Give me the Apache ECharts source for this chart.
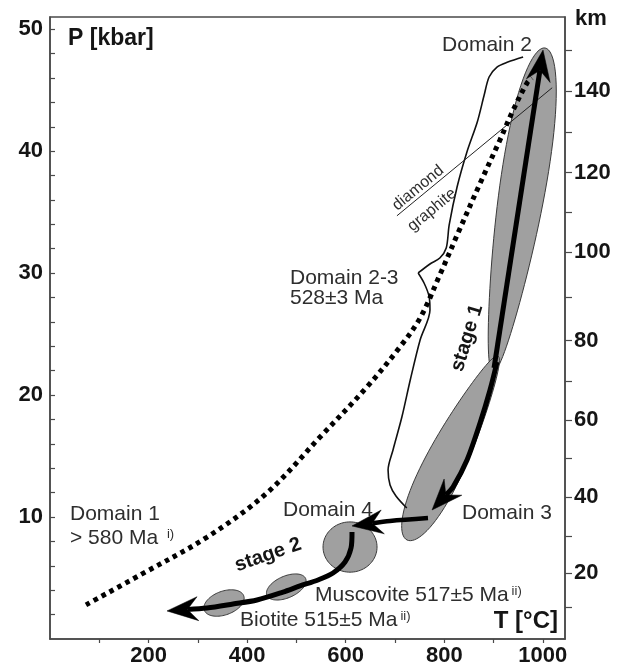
<!DOCTYPE html>
<html>
<head>
<meta charset="utf-8">
<script src="https://cdn.jsdelivr.net/npm/echarts@6/dist/echarts.min.js"></script>
<style>
  html, body { margin: 0; padding: 0; background: #fff; }
  #chart { width: 627px; height: 669px; }
</style>
</head>
<body>
<div id="chart"></div>
<script>
// ---- axes ----
const tempTicks = [100, 200, 300, 400, 500, 600, 700, 800, 900, 1000];
const tempLabels = [200, 400, 600, 800, 1000];
const pressureTicks = [2, 4, 6, 8, 10, 12, 14, 16, 18, 20, 22, 24, 26, 28, 30, 32, 34, 36, 38, 40, 42, 44, 46, 48, 50];
const pressureLabels = [10, 20, 30, 40, 50];
// depth scale (km) and the pressure at which each depth sits
const depthKm = [10, 20, 30, 40, 50, 60, 70, 80, 90, 100, 110, 120, 130, 140, 150];
const depthP = [2.60, 5.39, 8.39, 11.62, 14.82, 17.96, 21.15, 24.46, 28.02, 31.71, 34.95, 38.23, 41.51, 44.93, 48.24];
const depthLabelled = [20, 40, 60, 80, 100, 120, 140];

// ---- dotted reference curve ----
const curveT = [73, 183, 319, 440, 548, 643, 710, 751, 791, 828, 873, 913, 940, 968, 978];
const curveP = [2.8, 5.25, 8.36, 11.97, 16.56, 20.66, 23.94, 26.32, 29.85, 33.29, 37.39, 40.92, 43.38, 45.59, 46.0];

// ---- Domain 2-3 field outline (upper part to the notch, lower part from it) ----
const outlineUpperT = [960, 929, 907, 891, 881, 867, 846, 826, 810, 804, 791, 771, 747];
const outlineUpperP = [47.72, 47.31, 46.90, 46.08, 44.60, 42.39, 39.93, 37.06, 33.95, 32.06, 31.24, 30.75, 30.01];
const outlineLowerT = [747, 759, 769, 771, 751, 731, 714, 696, 686, 690, 702, 724];
const outlineLowerP = [30.01, 29.19, 28.12, 26.98, 24.52, 21.24, 18.20, 15.50, 13.86, 12.63, 11.73, 10.74];

// ---- diamond / graphite transition ----
const dgT = [704, 1019];
const dgP = [34.7, 45.2];

// ---- P-T fields: major axis end points, half width (degC) and egg skew towards end A ----
const fieldTipAT = [1004.5, 909.1, 554.0, 440.2, 313.1];
const fieldTipAP = [48.46, 23.2, 7.54, 3.57, 2.36];
const fieldTipBT = [898.9, 724.4, 663.6, 518.7, 393.1];
const fieldTipBP = [21.89, 8.12, 7.54, 4.96, 3.54];
const fieldHalfWidthT = [45, 39, 51, 22, 24];
const fieldSkew = [0.3, -0.35, 0, 0, 0];

// ---- P-T path arrows ----
const stage1UpT = [901.0, 1000.4];
const stage1UpP = [22.22, 48.29];
const stage1DownT = [907.1, 892.9, 872.6, 846.2, 817.8, 775.2];
const stage1DownP = [22.71, 20.42, 17.71, 14.68, 12.46, 10.58];
const toDomain4T = [767.0, 689.9, 612.8];
const toDomain4P = [9.92, 9.68, 9.27];
const stage2T = [612.8, 610.8, 598.6, 574.3, 543.8, 507.3, 472.8, 420.0, 371.3, 318.6, 237.4];
const stage2P = [8.77, 7.46, 6.31, 5.41, 4.84, 4.35, 3.85, 3.20, 2.87, 2.54, 2.30];

const FONT = '"Liberation Sans", Arial, Helvetica, sans-serif';
const INK = '#2e2e2e';
const AXIS = '#4a4a4a';

function zip(a, b) { return a.map((v, i) => [v, b[i]]); }
function near(list, v) { return list.findIndex(x => Math.abs(x - v) < 1e-6); }

// annotations, anchored in T/P coordinates
const notes = [
  { text: 'Domain 2', at: [795.5, 48.7] },
  { text: 'Domain 2-3', at: [487, 29.6] },
  { text: '528\u00b13 Ma', at: [487, 27.96] },
  { text: 'Domain 1', at: [40.6, 10.25] },
  { text: '> 580 Ma {sup|i)}', at: [40.6, 8.28] },
  { text: 'Domain 4', at: [472.8, 10.58] },
  { text: 'Domain 3', at: [836, 10.33] },
  { text: 'Muscovite 517\u00b15 Ma{sup|ii)}', at: [537.7, 3.61] },
  { text: 'Biotite 515\u00b15 Ma{sup|ii)}', at: [385.6, 1.56] },
  { text: 'stage 1', at: [846.2, 24.68], rotate: 73, bold: true, center: true, size: 20 },
  { text: 'stage 2', at: [442.4, 6.89], rotate: 19, bold: true, center: true, size: 20 },
  { text: 'diamond', at: [746.8, 36.98], rotate: 39.6, center: true, size: 16 },
  { text: 'graphite', at: [775.2, 35.18], rotate: 39.6, center: true, size: 16 }
];

function arrowSeries(ts, ps, width) {
  return {
    type: 'custom',
    coordinateSystem: 'cartesian2d',
    z: 8,
    silent: true,
    clip: false,
    data: [[ts[ts.length - 1], ps[ps.length - 1]]],
    renderItem: function (params, api) {
      const pts = ts.map((t, i) => api.coord([t, ps[i]]));
      const n = pts.length;
      const tip = pts[n - 1];
      const prev = pts[n - 2];
      let dx = tip[0] - prev[0], dy = tip[1] - prev[1];
      const len = Math.hypot(dx, dy);
      dx /= len; dy /= len;
      const nx = -dy, ny = dx;
      const L = 31, W = 12, notch = 0.66 * L;
      const base = [tip[0] - dx * L, tip[1] - dy * L];
      const b1 = [base[0] + nx * W, base[1] + ny * W];
      const b2 = [base[0] - nx * W, base[1] - ny * W];
      const nch = [tip[0] - dx * notch, tip[1] - dy * notch];
      const shaft = pts.slice(0, n - 1).concat([nch]);
      return {
        type: 'group',
        children: [
          { type: 'polyline', shape: { points: shaft, smooth: 0.3 },
            style: { stroke: '#000', lineWidth: width, fill: null, lineCap: 'butt', lineJoin: 'round' } },
          { type: 'polygon', shape: { points: [tip, b1, nch, b2] },
            style: { fill: '#000', stroke: '#000', lineWidth: 0.5 } }
        ]
      };
    }
  };
}

const chart = echarts.init(document.getElementById('chart'), null, { renderer: 'canvas' });

const option = {
  animation: false,
  backgroundColor: '#fff',
  grid: {
    left: 50, top: 17, right: 62, bottom: 30,
    show: true, borderColor: AXIS, borderWidth: 1.5, backgroundColor: 'transparent',
    outerBoundsMode: 'none'
  },
  xAxis: {
    type: 'value', min: 0, max: 1045,
    axisLine: { show: true, onZero: false, lineStyle: { color: AXIS, width: 1.5 } },
    axisTick: { show: true, inside: false, length: 4, customValues: tempTicks, lineStyle: { color: AXIS, width: 1.2 } },
    axisLabel: { customValues: tempLabels, formatter: v => String(v), margin: 6, fontSize: 22, fontWeight: 'bold', color: '#151515', fontFamily: FONT },
    splitLine: { show: false }
  },
  yAxis: [
    {
      type: 'value', min: 0, max: 51, position: 'left',
      axisLine: { show: true, onZero: false, lineStyle: { color: AXIS, width: 1.5 } },
      axisTick: { show: true, inside: true, length: 5, customValues: pressureTicks, lineStyle: { color: AXIS, width: 1.2 } },
      axisLabel: { customValues: pressureLabels, formatter: v => String(v), margin: 7, fontSize: 22, fontWeight: 'bold', color: '#151515', fontFamily: FONT },
      splitLine: { show: false }
    },
    {
      type: 'value', min: 0, max: 51, position: 'right',
      axisLine: { show: true, onZero: false, lineStyle: { color: AXIS, width: 1.5 } },
      axisTick: { show: true, inside: false, length: 7, customValues: depthP, lineStyle: { color: AXIS, width: 1.2 } },
      axisLabel: {
        customValues: depthLabelled.map(k => depthP[depthKm.indexOf(k)]),
        formatter: function (v) { const i = near(depthP, v); return i >= 0 ? String(depthKm[i]) : ''; },
        margin: 9, fontSize: 22, fontWeight: 'bold', color: '#151515', fontFamily: FONT
      },
      splitLine: { show: false }
    }
  ],
  graphic: [
    { type: 'text', left: 68, top: 27, style: { text: 'P [kbar]', font: 'bold 23px ' + FONT, fill: '#151515' } },
    { type: 'text', left: 575, top: 8, style: { text: 'km', font: 'bold 22px ' + FONT, fill: '#151515' } },
    { type: 'text', right: 69, top: 609, style: { text: 'T [\u00b0C]', font: 'bold 24px ' + FONT, fill: '#151515' } }
  ],
  series: [
    // P-T fields, drawn as (possibly egg-shaped) ellipses between their two end points
    {
      type: 'custom', coordinateSystem: 'cartesian2d', z: 2, silent: true,
      data: fieldTipAT.map((t, i) => [t, fieldTipAP[i], fieldTipBT[i], fieldTipBP[i], fieldHalfWidthT[i], fieldSkew[i]]),
      renderItem: function (params, api) {
        const a = api.coord([api.value(0), api.value(1)]);
        const b = api.coord([api.value(2), api.value(3)]);
        const cx = (a[0] + b[0]) / 2, cy = (a[1] + b[1]) / 2;
        const rx = Math.hypot(a[0] - b[0], a[1] - b[1]) / 2;
        const ry = api.size([api.value(4), 0])[0];
        const skew = api.value(5);
        const ux = (a[0] - cx) / rx, uy = (a[1] - cy) / rx;
        const vx = -uy, vy = ux;
        const pts = [];
        const N = 96;
        for (let k = 0; k < N; k++) {
          const th = 2 * Math.PI * k / N;
          const c = Math.cos(th), s = Math.sin(th);
          const along = rx * c, across = ry * s * (1 + skew * c);
          pts.push([cx + ux * along + vx * across, cy + uy * along + vy * across]);
        }
        return {
          type: 'polygon',
          shape: { points: pts },
          style: { fill: '#a0a0a0', stroke: '#3a3a3a', lineWidth: 1 }
        };
      }
    },
    // Domain 2-3 outline
    {
      type: 'line', z: 4, silent: true, showSymbol: false, smooth: 0.3,
      data: zip(outlineUpperT, outlineUpperP),
      lineStyle: { color: '#111', width: 1.6 }
    },
    {
      type: 'line', z: 4, silent: true, showSymbol: false, smooth: 0.3,
      data: zip(outlineLowerT, outlineLowerP),
      lineStyle: { color: '#111', width: 1.6 }
    },
    // diamond-graphite transition
    {
      type: 'line', z: 4, silent: true, showSymbol: false,
      data: zip(dgT, dgP),
      lineStyle: { color: '#222', width: 1 }
    },
    // dotted curve
    {
      type: 'line', z: 5, silent: true, showSymbol: false, smooth: 0.35,
      data: zip(curveT, curveP),
      lineStyle: { color: '#000', width: 5, type: [4.5, 4.5], cap: 'butt' }
    },
    // P-T path
    arrowSeries(stage1UpT, stage1UpP, 5),
    arrowSeries(stage1DownT, stage1DownP, 5),
    arrowSeries(toDomain4T, toDomain4P, 4.5),
    arrowSeries(stage2T, stage2P, 5),
    // annotations
    {
      type: 'custom', coordinateSystem: 'cartesian2d', z: 10, silent: true, clip: false,
      data: notes.map(n => n.at),
      renderItem: function (params, api) {
        const n = notes[params.dataIndex];
        const p = api.coord([api.value(0), api.value(1)]);
        return {
          type: 'text', x: p[0], y: p[1],
          rotation: (n.rotate || 0) * Math.PI / 180,
          style: {
            text: n.text,
            fontSize: n.size || 21,
            fontFamily: FONT,
            fontWeight: n.bold ? 'bold' : 'normal',
            fill: n.bold ? '#151515' : INK,
            align: n.center ? 'center' : 'left',
            verticalAlign: 'middle',
            rich: { sup: { fontSize: 13, fontFamily: FONT, fill: INK, verticalAlign: 'top', padding: [0, 0, 0, 3] } }
          }
        };
      }
    }
  ]
};

chart.setOption(option);
</script>
</body>
</html>
